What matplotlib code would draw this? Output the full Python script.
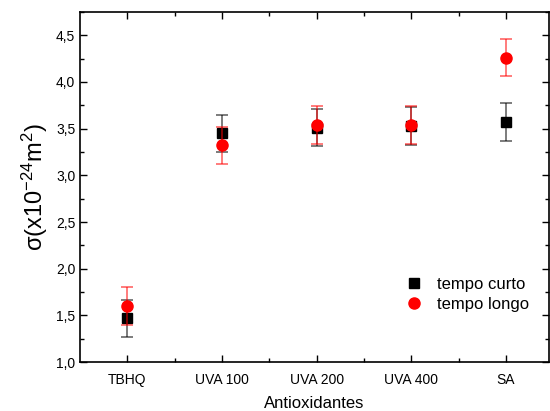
import matplotlib
matplotlib.use('Agg')
import matplotlib.pyplot as plt
from matplotlib.lines import Line2D
from matplotlib.ticker import MultipleLocator, FuncFormatter

plt.rcParams['font.family'] = ['Liberation Sans', 'DejaVu Sans']

# --- data ---
categories = ['TBHQ', 'UVA 100', 'UVA 200', 'UVA 400', 'SA']
curto = [1.47, 3.45, 3.51, 3.53, 3.57]
curto_err = [0.20, 0.20, 0.20, 0.20, 0.20]
longo = [1.60, 3.32, 3.54, 3.54, 4.26]
longo_err = [0.20, 0.20, 0.20, 0.20, 0.20]

x = list(range(1, len(categories) + 1))

fig = plt.figure(figsize=(5.5, 4.11), dpi=100)
ax = fig.add_axes([0.1455, 0.119, 0.852, 0.852])

ax.errorbar(x, curto, yerr=curto_err, fmt='s', color='black', ms=6.5,
            ecolor=(0, 0, 0, 0.6), elinewidth=1.2, capsize=4, capthick=1.2,
            zorder=3)
ax.errorbar(x, longo, yerr=longo_err, fmt='o', color='red', ms=8,
            ecolor=(1, 0, 0, 0.6), elinewidth=1.2, capsize=4, capthick=1.2,
            zorder=4)

ax.set_xlim(0.5, 5.45)
ax.set_ylim(1.0, 4.75)
ax.set_xticks(x)
ax.set_xticklabels(categories)
ax.set_xticks([1.5, 2.5, 3.5, 4.5], minor=True)
ax.yaxis.set_major_locator(MultipleLocator(0.5))
ax.yaxis.set_minor_locator(MultipleLocator(0.25))
ax.yaxis.set_major_formatter(FuncFormatter(lambda v, p: f'{v:.1f}'.replace('.', ',')))

ax.tick_params(which='both', direction='in', top=True, right=True, labelsize=10, width=1)
ax.tick_params(which='major', length=5)
ax.tick_params(which='minor', length=3)
ax.tick_params(axis='x', pad=8)
for s in ax.spines.values():
    s.set_linewidth(1.2)

ax.set_xlabel('Antioxidantes', fontsize=12, labelpad=6)
ax.set_ylabel(r'$\mathregular{\sigma(x10^{-24}m^2)}$', fontsize=17)

handles = [Line2D([], [], ls='none', marker='s', color='black', ms=6.5),
           Line2D([], [], ls='none', marker='o', color='red', ms=8)]
ax.legend(handles, ['tempo curto', 'tempo longo'], loc='lower right',
          bbox_to_anchor=(0.99, 0.1), frameon=False, fontsize=12,
          handletextpad=0.6, labelspacing=0.3, handlelength=1.5)

fig.savefig('out.png', dpi=100)
